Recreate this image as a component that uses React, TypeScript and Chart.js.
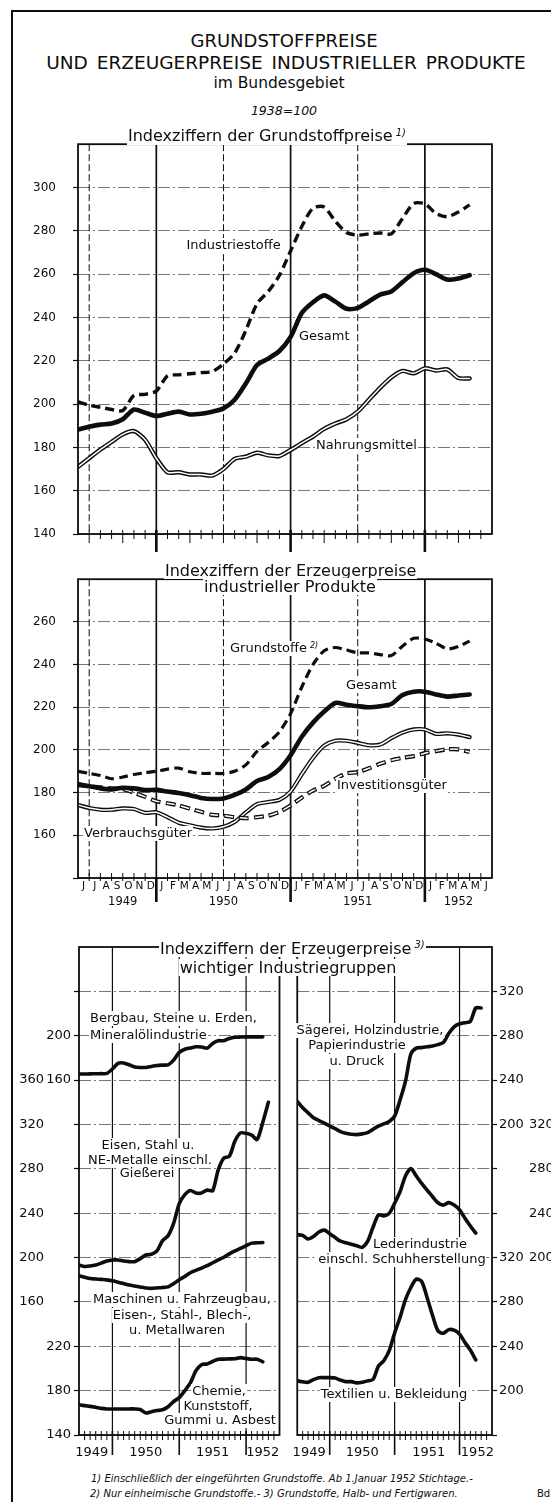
import React, { useEffect, useRef } from 'react';
import { Chart, registerables } from 'chart.js';

Chart.register(...registerables);

const FONT = "'DejaVu Sans', 'Liberation Sans', Arial, sans-serif";
const INK = '#0d0d0d';
Chart.defaults.font.family = FONT;
Chart.defaults.color = INK;

// ---------- Panels 1 + 2: x = months since 1 June 1949 ----------
const monthPos = [0,1,2,3,4,5,6,7,8,9,10,11,12,13,14,15,16,17,18,19,20,21,22,23,24,25,26,27,28,29,30,31,32,33,34,35];
const monthLetters = ['J','J','A','S','O','N','D','J','F','M','A','M','J','J','A','S','O','N','D','J','F','M','A','M','J','J','A','S','O','N','D','J','F','M','A','M','J'];
const yearLabels = ['1949','1950','1951','1952'];
const yearLabelPosTop = [4, 13, 25, 34];
const yearBoundsTop = [7, 19, 31];
const halfYearBoundsTop = [1, 13, 25];
const monthBoundsTop = [1,2,3,4,5,6,7,8,9,10,11,12,13,14,15,16,17,18,19,20,21,22,23,24,25,26,27,28,29,30,31,32,33,34,35,36];
const quarterBoundsTop = [1, 4, 10, 13, 16, 22, 25, 28, 34];

// Panel 1: Indexziffern der Grundstoffpreise
const industriestoffe = [201,199.5,198.5,197.5,197,204,204.5,206,213,213.5,214,214.5,215,218.5,223.5,234,246.4,252,259.4,270.7,282,290.5,291,284.4,279.2,278,278.6,279,278.6,285.7,292.6,292.5,288,286.5,288.7,292];
const grundGesamt = [188.2,189.5,190.5,191,193,197.5,196,194.5,195.5,196.5,195.2,195.5,196.5,198,202,209.5,218,221,224.5,231,242,247,250.2,247.3,244,244.4,247.4,250.5,252,256.3,260.4,262,260,257.5,258,259.5];
const nahrungsmittel = [171,175,179,182.5,186,187.5,183.5,175,168.5,168.5,167.5,167.5,167,170,174.7,175.7,177.5,176.3,176,178.8,182,185,188.5,191,193,196.5,202,207.5,212.3,215.3,214.2,216.5,215.5,216,212,211.8];
const p1Ticks = [140,160,180,200,220,240,260,280,300];
const p1TickLabels = ['140','160','180','200','220','240','260','280','300'];

// Panel 2: Indexziffern der Erzeugerpreise industrieller Produkte
const grundstoffe2 = [190,189,188,186.5,187.3,188.5,189.3,190,191,191.5,189.8,189,189,189,190,193,199.3,203.5,208.5,217,229.5,240,246.5,248,246.8,245.5,245.5,244.7,244.2,248.6,252.3,252,250,247.3,248.5,251];
const gesamt2 = [184,183,182,181.5,182.3,182,181.2,181.3,180.5,179.8,178.8,177.5,177,177.3,178.9,181.5,185.4,187.3,191,197.5,206.2,212.8,218,222,221.2,220.5,220,220.5,221.5,225.7,227.3,227.3,226,225,225.5,226];
const investition2 = [183.5,183,182.5,182,181.6,180,178,176,175,174,172.5,171,169.6,169.2,168.5,168,168.5,169.2,171,174,177.7,181,183.2,186.5,189,189.6,191.4,193.5,195.2,196.3,197.1,198.5,199.4,200.3,200.3,199];
const verbrauch2 = [174.2,172.8,172,172,172.6,172.3,170.5,170.8,168.5,165.9,164.7,163.6,163.2,164,166.3,170.7,174.6,175.6,176.6,180.5,188.6,196.2,202,204.3,204.3,203.3,202.2,202.5,205.5,208.1,209.6,209.6,207.5,207.8,207.2,206];
const p2Ticks = [140,160,180,200,220,240,260];
const p2TickLabels = ['','160','180','200','220','240','260'];

// ---------- Panel 3: x = months since 1 July 1949 ----------
const monthPos3 = [0,1,2,3,4,5,6,7,8,9,10,11,12,13,14,15,16,17,18,19,20,21,22,23,24,25,26,27,28,29,30,31,32,33,34];
const yearBounds3 = [6, 18, 30];
const monthBounds3 = [1,2,3,4,5,6,7,8,9,10,11,12,13,14,15,16,17,18,19,20,21,22,23,24,25,26,27,28,29,30,31,32,33,34,35];
const yearLabelPos3L = [2.3, 12, 24, 33];
const yearLabelPos3R = [2.2, 12, 24.3, 33.3];

const bergbau = [165.5,165.5,165.6,165.7,165.8,166,170,175.1,175.4,173.8,171.8,171.4,171.4,172.3,173.1,173.5,173.8,178,185,187.8,188.9,190,189.8,188.8,193,195.5,195.5,197.5,198.6,198.8,199,199,199,199];
const eisenStahl = [193.3,192,192.3,193.2,195,196.8,197.8,197.8,196.8,196.3,196.3,199,202.3,203,206,215.2,219.7,231,248.6,256.7,260.5,258.2,258.2,260.8,260.2,279,289.7,291.3,305,312.4,312,310.4,306.5,322,340];
const maschinen = [183.6,182.3,181.1,180.7,180.3,179.9,179.1,177.8,176.5,175.2,174.3,173.5,172.6,172.2,172.6,173,173.6,176.5,180,183,186.3,188.5,190.5,192.7,195.3,197.8,200.3,203.3,206,208.3,210.7,213,213.3,213.5];
const chemie = [167.3,166.5,165.8,165,164,163.5,163.5,163.5,163.5,163.5,163.5,163,159.8,161,162,162.8,165.5,170.2,173.7,180,186.9,198,203.4,204.1,206.3,208.3,208.4,208.6,208.7,209.8,209,208.3,208.3,206];
const saegerei = [220.8,215,210.5,206,203.5,201.2,198.7,196.2,193.6,192,191.2,190.8,191.5,192.6,195.6,198.4,200.5,202.7,207.5,222,238.8,263.5,268.8,269.3,270,270.7,272,273.8,282,288,290.8,291.8,293,305,305];
const leder = [220.5,220,216.7,219,223,224.7,221.5,218,214.7,213.3,212,210.6,209.2,214.5,227.3,238.4,237.6,239.8,249,259.3,273.5,280.3,273.5,266.8,260.7,255,249.4,247.3,249.5,247.3,243,235.5,228.5,222];
const textilien = [208.8,208,207.5,210,211.7,211.7,211.7,211.3,209.5,208.1,208.1,207,207.5,208.8,210,222,227,236,252,266,282,293,300.5,298.4,284,268,254,251.7,255,254.5,251,243.5,236.5,227.7];

// base grid of panel 3 (in "Chemie" units) and tick label columns
const p3Grid = [140,180,220,260,300,340,380,420,460,500,540];
const p3LeftInnerLabels = ['140','180','220','','','','','','160','200',''];
const p3LeftOuterTicks = [160,200,240,280,320,360];
const p3LeftOuterLabels = ['160','200','240','280','320','360'];
const p3RightInnerLabels = ['','200','240','280','320','','','200','240','280','320'];
const p3RightOuterTicks = [200,240,280,320];
const p3RightOuterLabels = ['200','240','280','320'];

const gridDash = [12, 3, 2, 3];

// ---------- helpers ----------
function makeDecor(cfg: any) {
  return {
    id: 'decor',
    beforeDatasetsDraw(chart: any) {
      const { ctx, chartArea: ca } = chart;
      const xs = chart.scales.x;
      ctx.save();
      ctx.strokeStyle = INK;
      ctx.lineCap = 'butt';
      for (const v of cfg.solid) {
        const x = xs.getPixelForValue(v);
        ctx.lineWidth = cfg.solidWidth;
        ctx.setLineDash([]);
        ctx.beginPath(); ctx.moveTo(x, ca.top); ctx.lineTo(x, ca.bottom); ctx.stroke();
      }
      for (const v of cfg.dashed) {
        const x = xs.getPixelForValue(v);
        ctx.lineWidth = 1;
        ctx.setLineDash([7, 3]);
        ctx.beginPath(); ctx.moveTo(x, ca.top); ctx.lineTo(x, ca.bottom); ctx.stroke();
      }
      ctx.restore();
    },
    afterDatasetDraw(chart: any, args: any) {
      const ds: any = chart.data.datasets[args.index];
      if (!ds.innerWidth) return;
      const pts = args.meta.data;
      const ctx = chart.ctx;
      ctx.save();
      ctx.beginPath();
      let prev: any = null;
      for (const p of pts) {
        if (p.skip) { prev = null; continue; }
        if (!prev) ctx.moveTo(p.x, p.y);
        else if (p.cp1x !== undefined && prev.cp2x !== undefined) ctx.bezierCurveTo(prev.cp2x, prev.cp2y, p.cp1x, p.cp1y, p.x, p.y);
        else ctx.lineTo(p.x, p.y);
        prev = p;
      }
      ctx.strokeStyle = '#fff';
      ctx.lineWidth = ds.innerWidth;
      ctx.lineJoin = 'round';
      ctx.lineCap = ds.innerDash ? 'butt' : 'round';
      ctx.setLineDash(ds.innerDash || []);
      ctx.lineDashOffset = ds.innerDashOffset || 0;
      ctx.stroke();
      ctx.restore();
    },
    afterDatasetsDraw(chart: any) {
      const { ctx, chartArea: ca } = chart;
      const xs = chart.scales.x;
      ctx.save();
      ctx.strokeStyle = INK;
      ctx.setLineDash([]);
      ctx.lineWidth = cfg.frameWidth;
      ctx.strokeRect(ca.left, ca.top, ca.right - ca.left, ca.bottom - ca.top);
      for (const v of cfg.ticks) {
        const x = xs.getPixelForValue(v);
        let up = cfg.tickUp, down = cfg.tickDown, w = 1;
        if (cfg.years.includes(v)) { up = cfg.yearUp; down = cfg.yearDown; w = cfg.yearWidth; }
        else if (cfg.quarter.includes(v)) { down = cfg.quarterDown; }
        ctx.lineWidth = w;
        ctx.beginPath(); ctx.moveTo(x, ca.bottom - up); ctx.lineTo(x, ca.bottom + down); ctx.stroke();
      }
      ctx.restore();
    },
  };
}

function valueAxis(o: any) {
  return {
    type: 'linear',
    display: true,
    position: o.position,
    weight: o.weight,
    min: o.min,
    max: o.max,
    afterBuildTicks: (s: any) => { s.ticks = o.ticks.map((v: number) => ({ value: v })); },
    afterFit: (s: any) => { s.width = o.width; },
    ticks: {
      autoSkip: false,
      padding: o.padding,
      color: INK,
      font: { family: FONT, size: o.font },
      callback: (_v: any, i: number) => o.labels[i],
    },
    grid: o.grid
      ? { drawOnChartArea: true, color: '#4a4a4a', lineWidth: 0.75, drawTicks: true, tickLength: o.tickLength, tickColor: INK, tickWidth: 1.2 }
      : { drawOnChartArea: false, drawTicks: false },
    border: { display: false, dash: gridDash },
  };
}

function yearAxis(pos: number[], size: number, padding: number, height: number, max: number, weight = 0) {
  return {
    type: 'linear',
    position: 'bottom',
    weight,
    min: 0,
    max,
    afterBuildTicks: (s: any) => { s.ticks = pos.map((v) => ({ value: v })); },
    afterFit: (s: any) => { s.height = height; },
    ticks: { autoSkip: false, maxRotation: 0, minRotation: 0, padding, color: INK, font: { family: FONT, size }, callback: (_v: any, i: number) => yearLabels[i] },
    grid: { display: false, drawTicks: false },
    border: { display: false },
  };
}

const lineBase = { borderColor: INK, backgroundColor: INK, fill: false, pointRadius: 0, borderJoinStyle: 'round', borderCapStyle: 'round', tension: 0.25 };

const baseOptions = (padding: any, scales: any) => ({
  animation: false,
  responsive: false,
  maintainAspectRatio: false,
  events: [],
  layout: { padding },
  plugins: { legend: { display: false }, tooltip: { enabled: false } },
  scales,
});

function panel1() {
  return {
    type: 'line',
    data: {
      labels: monthPos,
      datasets: [
        { ...lineBase, label: 'Gesamt', data: grundGesamt, borderWidth: 4.6 },
        { ...lineBase, label: 'Industriestoffe', data: industriestoffe, borderWidth: 3.4, borderDash: [9, 5], borderCapStyle: 'butt' },
        { ...lineBase, label: 'Nahrungsmittel', data: nahrungsmittel, borderWidth: 4.4, innerWidth: 1.5 },
      ],
    },
    options: baseOptions({ left: 0, right: 59, top: 14, bottom: 26 }, {
      x: { type: 'linear', min: 0, max: 37, display: false },
      y: valueAxis({ position: 'left', weight: 0, min: 140, max: 320, ticks: p1Ticks, labels: p1TickLabels, width: 78, padding: 17, font: 12, grid: true, tickLength: 5 }),
    }),
    plugins: [makeDecor({ solid: yearBoundsTop, solidWidth: 1.7, dashed: halfYearBoundsTop, ticks: monthBoundsTop, tickUp: 4, tickDown: 5, quarter: quarterBoundsTop, quarterDown: 9, years: yearBoundsTop, yearUp: 4, yearDown: 18, yearWidth: 2.6, frameWidth: 1.8 })],
  };
}

function panel2() {
  return {
    type: 'line',
    data: {
      labels: monthPos,
      datasets: [
        { ...lineBase, label: 'Gesamt', data: gesamt2, borderWidth: 4.6 },
        { ...lineBase, label: 'Grundstoffe', data: grundstoffe2, borderWidth: 3.2, borderDash: [9, 5], borderCapStyle: 'butt' },
        { ...lineBase, label: 'Investitionsgüter', data: investition2, borderWidth: 4.2, borderDash: [10, 5], borderCapStyle: 'butt', innerWidth: 1.5, innerDash: [8, 7], innerDashOffset: -1 },
        { ...lineBase, label: 'Verbrauchsgüter', data: verbrauch2, borderWidth: 4.2, innerWidth: 1.5 },
      ],
    },
    options: baseOptions({ left: 0, right: 59, top: 13, bottom: 3 }, {
      x: {
        type: 'linear', position: 'bottom', weight: 0, min: 0, max: 37,
        afterBuildTicks: (s: any) => { s.ticks = monthLetters.map((_m, i) => ({ value: i + 0.5 })); },
        afterFit: (s: any) => { s.height = 16; },
        ticks: { autoSkip: false, maxRotation: 0, minRotation: 0, padding: 2, color: INK, font: { family: FONT, size: 10.5 }, callback: (_v: any, i: number) => monthLetters[i] },
        grid: { display: false, drawTicks: false },
        border: { display: false },
      },
      xYear: yearAxis(yearLabelPosTop, 11.5, 1, 18, 37, 1),
      y: valueAxis({ position: 'left', weight: 0, min: 140, max: 280, ticks: p2Ticks, labels: p2TickLabels, width: 78, padding: 17, font: 12, grid: true, tickLength: 5 }),
    }),
    plugins: [makeDecor({ solid: yearBoundsTop, solidWidth: 1.7, dashed: halfYearBoundsTop, ticks: monthBoundsTop, tickUp: 5, tickDown: 3, quarter: [], quarterDown: 3, years: yearBoundsTop, yearUp: 0, yearDown: 24, yearWidth: 2.6, frameWidth: 1.8 })],
  };
}

function panel3Left() {
  return {
    type: 'line',
    data: {
      labels: monthPos3,
      datasets: [
        { ...lineBase, label: 'Bergbau, Steine u. Erden, Mineralölindustrie', data: bergbau, borderWidth: 3.6, yAxisID: 'yB' },
        { ...lineBase, label: 'Eisen, Stahl u. NE-Metalle einschl. Gießerei', data: eisenStahl, borderWidth: 3.6, yAxisID: 'yE' },
        { ...lineBase, label: 'Maschinen u. Fahrzeugbau, Eisen-, Stahl-, Blech-, u. Metallwaren', data: maschinen, borderWidth: 3.6, yAxisID: 'yE' },
        { ...lineBase, label: 'Chemie, Kunststoff, Gummi u. Asbest', data: chemie, borderWidth: 3.6, yAxisID: 'yC' },
      ],
    },
    options: baseOptions({ left: 0, right: 8, top: 17, bottom: 5 }, {
      x: yearAxis(yearLabelPos3L, 13, 10, 30, 36),
      yC: valueAxis({ position: 'left', weight: 0, min: 140, max: 580, ticks: p3Grid, labels: p3LeftInnerLabels, width: 33, padding: 3, font: 13, grid: true, tickLength: 5 }),
      yE: valueAxis({ position: 'left', weight: 1, min: 40, max: 480, ticks: p3LeftOuterTicks, labels: p3LeftOuterLabels, width: 46, padding: 2, font: 13, grid: false }),
      yB: { type: 'linear', display: false, min: -160, max: 280 },
    }),
    plugins: [makeDecor({ solid: yearBounds3, solidWidth: 1.2, dashed: [], ticks: monthBounds3, tickUp: 4, tickDown: 5, quarter: [], quarterDown: 5, years: yearBounds3, yearUp: 4, yearDown: 20, yearWidth: 1.6, frameWidth: 1.8 })],
  };
}

function panel3Right() {
  return {
    type: 'line',
    data: {
      labels: monthPos3,
      datasets: [
        { ...lineBase, label: 'Sägerei, Holzindustrie, Papierindustrie u. Druck', data: saegerei, borderWidth: 3.6, yAxisID: 'yS' },
        { ...lineBase, label: 'Lederindustrie einschl. Schuhherstellung', data: leder, borderWidth: 3.6, yAxisID: 'yL' },
        { ...lineBase, label: 'Textilien u. Bekleidung', data: textilien, borderWidth: 3.6, yAxisID: 'yT' },
      ],
    },
    options: baseOptions({ left: 10, right: 0, top: 17, bottom: 5 }, {
      x: yearAxis(yearLabelPos3R, 13, 10, 30, 36),
      yR: valueAxis({ position: 'right', weight: 0, min: 140, max: 580, ticks: p3Grid, labels: p3RightInnerLabels, width: 35, padding: 2, font: 13, grid: true, tickLength: 5 }),
      yL: valueAxis({ position: 'right', weight: 1, min: 40, max: 480, ticks: p3RightOuterTicks, labels: p3RightOuterLabels, width: 24, padding: 2, font: 13, grid: false }),
      yS: { type: 'linear', display: false, min: -80, max: 360 },
      yT: { type: 'linear', display: false, min: 160, max: 600 },
    }),
    plugins: [makeDecor({ solid: yearBounds3, solidWidth: 1.2, dashed: [], ticks: monthBounds3, tickUp: 4, tickDown: 5, quarter: [], quarterDown: 5, years: yearBounds3, yearUp: 4, yearDown: 20, yearWidth: 1.6, frameWidth: 1.8 })],
  };
}

function ChartCanvas({ left, top, width, height, build }: any) {
  const ref = useRef<HTMLCanvasElement>(null);
  useEffect(() => {
    const chart = new Chart(ref.current as any, build() as any);
    return () => chart.destroy();
  }, []);
  return <canvas ref={ref} width={width} height={height} style={{ position: 'absolute', left, top, width, height }} />;
}

const LH = 1.1;
function T({ t, x, b, s, a = 'l', i = false, bg = true, ws = 0 }: any) {
  const top = b - (LH / 2 + 0.346) * s;
  const tr = a === 'c' ? 'translateX(-50%)' : a === 'r' ? 'translateX(-100%)' : undefined;
  return (
    <div style={{ position: 'absolute', left: x, top, fontSize: s, lineHeight: LH, fontStyle: i ? 'italic' : 'normal', whiteSpace: 'nowrap', background: bg ? '#fff' : 'transparent', transform: tr, wordSpacing: ws, padding: '0 1px', marginLeft: a === 'l' ? -1 : 0 }}>
      {t}
    </div>
  );
}
const Sup = ({ c }: any) => <span style={{ fontSize: '0.62em', verticalAlign: '0.55em', fontStyle: 'italic', marginLeft: 3 }}>{c}</span>;

const texts: any[] = [
  { t: 'GRUNDSTOFFPREISE', x: 284, b: 47, s: 18, a: 'c', bg: false },
  { t: 'UND ERZEUGERPREISE INDUSTRIELLER PRODUKTE', x: 286, b: 70, s: 18.5, a: 'c', ws: 3, bg: false },
  { t: 'im Bundesgebiet', x: 279, b: 89, s: 15.5, a: 'c', bg: false },
  { t: '1938=100', x: 284, b: 115, s: 12.5, a: 'c', i: true, bg: false },
  { t: <>Indexziffern der Grundstoffpreise<Sup c="1)" /></>, x: 128, b: 141.5, s: 16 },
  { t: 'Industriestoffe', x: 186.5, b: 250, s: 13 },
  { t: 'Gesamt', x: 299, b: 341, s: 13 },
  { t: 'Nahrungsmittel', x: 316, b: 449.5, s: 13 },
  { t: 'Indexziffern der Erzeugerpreise', x: 165, b: 576, s: 16 },
  { t: 'industrieller Produkte', x: 204, b: 592, s: 16 },
  { t: <>Grundstoffe<Sup c="2)" /></>, x: 230, b: 653, s: 13 },
  { t: 'Gesamt', x: 346, b: 690, s: 13 },
  { t: 'Investitionsgüter', x: 337, b: 790, s: 13 },
  { t: 'Verbrauchsgüter', x: 84, b: 838, s: 13 },
  { t: <>Indexziffern der Erzeugerpreise<Sup c="3)" /></>, x: 160, b: 954, s: 16 },
  { t: 'wichtiger Industriegruppen', x: 288, b: 973, s: 16, a: 'c' },
  { t: 'Bergbau, Steine u. Erden,', x: 90, b: 1023, s: 13 },
  { t: 'Mineralölindustrie', x: 90, b: 1040, s: 13 },
  { t: 'Eisen, Stahl u.', x: 148, b: 1150, s: 13, a: 'c' },
  { t: 'NE-Metalle einschl.', x: 150, b: 1165, s: 13, a: 'c' },
  { t: 'Gießerei', x: 147, b: 1178, s: 13, a: 'c' },
  { t: 'Maschinen u. Fahrzeugbau,', x: 182, b: 1304, s: 13, a: 'c' },
  { t: 'Eisen-, Stahl-, Blech-,', x: 182, b: 1320, s: 13, a: 'c' },
  { t: 'u. Metallwaren', x: 177, b: 1335, s: 13, a: 'c' },
  { t: 'Chemie,', x: 219, b: 1396, s: 13, a: 'c' },
  { t: 'Kunststoff,', x: 218, b: 1411, s: 13, a: 'c' },
  { t: 'Gummi u. Asbest', x: 220, b: 1425, s: 13, a: 'c' },
  { t: 'Sägerei, Holzindustrie,', x: 370, b: 1035, s: 13, a: 'c' },
  { t: 'Papierindustrie', x: 357, b: 1050, s: 13, a: 'c' },
  { t: 'u. Druck', x: 357, b: 1066, s: 13, a: 'c' },
  { t: 'Lederindustrie', x: 420, b: 1249, s: 13, a: 'c' },
  { t: 'einschl. Schuhherstellung', x: 402, b: 1264, s: 13, a: 'c' },
  { t: 'Textilien u. Bekleidung', x: 394, b: 1399, s: 13, a: 'c' },
  { t: '1) Einschließlich der eingeführten Grundstoffe. Ab 1.Januar 1952 Stichtage.-', x: 91, b: 1482, s: 10, i: true, bg: false },
  { t: '2) Nur einheimische Grundstoffe.- 3) Grundstoffe, Halb- und Fertigwaren.', x: 90, b: 1497, s: 10, i: true, bg: false },
  { t: 'Bdl', x: 537, b: 1497, s: 10, bg: false },
];

export default function App() {
  return (
    <div style={{ position: 'absolute', left: 0, top: 0, width: 551, height: 1502, overflow: 'hidden', background: '#fff', fontFamily: FONT, color: INK }}>
      <div style={{ position: 'absolute', left: 11, top: 10, width: 600, height: 1600, borderLeft: `2px solid ${INK}`, borderTop: `2px solid ${INK}` }} />
      <ChartCanvas left={0} top={120} width={551} height={440} build={panel1} />
      <ChartCanvas left={0} top={555} width={551} height={360} build={panel2} />
      <ChartCanvas left={0} top={930} width={290} height={540} build={panel3Left} />
      <ChartCanvas left={282} top={930} width={269} height={540} build={panel3Right} />
      {texts.map((p, k) => <T key={k} {...p} />)}
    </div>
  );
}
